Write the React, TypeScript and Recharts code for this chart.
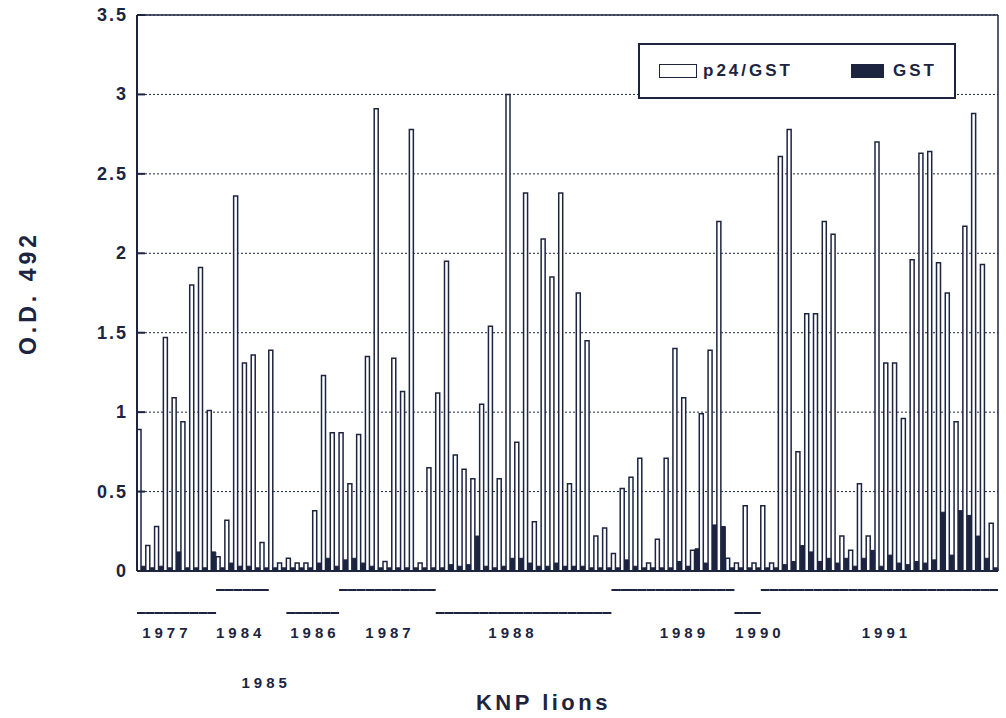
import React from 'react';
import { BarChart, Bar, XAxis, YAxis, CartesianGrid, Legend, ReferenceLine } from 'recharts';

// O.D. 492 readings per lion, left to right
const p24Values = [
  0.89, 0.16, 0.28, 1.47, 1.09, 0.94, 1.8, 1.91, 1.01, 0.09,
  0.32, 2.36, 1.31, 1.36, 0.18, 1.39, 0.05, 0.08, 0.05, 0.05,
  0.38, 1.23, 0.87, 0.87, 0.55, 0.86, 1.35, 2.91, 0.06, 1.34,
  1.13, 2.78, 0.05, 0.65, 1.12, 1.95, 0.73, 0.64, 0.58, 1.05,
  1.54, 0.58, 3.0, 0.81, 2.38, 0.31, 2.09, 1.85, 2.38, 0.55,
  1.75, 1.45, 0.22, 0.27, 0.11, 0.52, 0.59, 0.71, 0.05, 0.2,
  0.71, 1.4, 1.09, 0.13, 0.99, 1.39, 2.2, 0.08, 0.05, 0.41,
  0.05, 0.41, 0.05, 2.61, 2.78, 0.75, 1.62, 1.62, 2.2, 2.12,
  0.22, 0.13, 0.55, 0.22, 2.7, 1.31, 1.31, 0.96, 1.96, 2.63,
  2.64, 1.94, 1.75, 0.94, 2.17, 2.88, 1.93, 0.3,
];

const gstValues = [
  0.03, 0.02, 0.03, 0.02, 0.12, 0.02, 0.02, 0.02, 0.12, 0.02,
  0.05, 0.03, 0.03, 0.02, 0.02, 0.02, 0.02, 0.02, 0.02, 0.02,
  0.05, 0.08, 0.03, 0.07, 0.08, 0.05, 0.03, 0.02, 0.02, 0.02,
  0.02, 0.02, 0.02, 0.02, 0.02, 0.04, 0.03, 0.04, 0.22, 0.03,
  0.02, 0.03, 0.08, 0.08, 0.05, 0.03, 0.03, 0.05, 0.03, 0.03,
  0.03, 0.02, 0.02, 0.02, 0.02, 0.07, 0.03, 0.02, 0.02, 0.02,
  0.02, 0.06, 0.03, 0.14, 0.05, 0.29, 0.28, 0.02, 0.02, 0.02,
  0.02, 0.02, 0.02, 0.04, 0.06, 0.16, 0.12, 0.06, 0.08, 0.05,
  0.08, 0.03, 0.08, 0.13, 0.03, 0.1, 0.05, 0.04, 0.06, 0.05,
  0.07, 0.37, 0.1, 0.38, 0.35, 0.22, 0.08, 0.02,
];

const yTicks = [0, 0.5, 1, 1.5, 2, 2.5, 3, 3.5];

// sampling years: first/last lion index, which line row, label position (in lion units)
const years = [
  { year: '1977', from: 0, to: 8, row: 'low', labelAt: 3.4 },
  { year: '1984', from: 9, to: 14, row: 'high', labelAt: 11.8 },
  { year: '1985', from: 15, to: 16, row: 'none', labelAt: 14.7 },
  { year: '1986', from: 17, to: 22, row: 'low', labelAt: 20.25 },
  { year: '1987', from: 23, to: 33, row: 'high', labelAt: 28.8 },
  { year: '1988', from: 34, to: 53, row: 'low', labelAt: 42.8 },
  { year: '1989', from: 54, to: 67, row: 'high', labelAt: 62.3 },
  { year: '1990', from: 68, to: 70, row: 'low', labelAt: 70.9 },
  { year: '1991', from: 71, to: 97, row: 'high', labelAt: 85.3 },
];

const data = p24Values.map((v, i) => ({ lion: String(i + 1), p24: v, gst: gstValues[i] }));

const INK = '#1c2440';
const FONT = '"Liberation Sans", Arial, sans-serif';

const ODTick = ({ x, y, payload }: any) => (
  <g>
    <line x1={x + 9} x2={x + 17} y1={y} y2={y} stroke={INK} strokeWidth={2} />
    <text x={x} y={y} dy={6} textAnchor="end" fill={INK} fontFamily={FONT} fontWeight={700}
      fontSize={18} letterSpacing={2}>
      {payload.value}
    </text>
  </g>
);

const YearTick = ({ x, y, index, payload }: any) => {
  const bw = payload && payload.offset ? payload.offset * 2 : 8.79;
  const parts: React.ReactNode[] = [];
  years.forEach((s) => {
    if (s.row !== 'none' && index >= s.from && index <= s.to) {
      const ly = y + (s.row === 'high' ? 19 : 42);
      parts.push(
        <line key={s.year + 'l'} x1={x - bw / 2} x2={x + bw / 2} y1={ly} y2={ly} stroke={INK} strokeWidth={2} />
      );
    }
    if (Math.floor(s.labelAt) === index) {
      parts.push(
        <text key={s.year + 't'} x={x + (s.labelAt - index - 0.5) * bw} y={y + (s.row === 'none' ? 117 : 67)}
          textAnchor="middle" fill={INK} fontFamily={FONT} fontWeight={700} fontSize={15} letterSpacing={4}>
          {s.year}
        </text>
      );
    }
  });
  return <g>{parts}</g>;
};

const LegendBox = () => (
  <div style={{
    position: 'relative', border: `2px solid ${INK}`, background: '#fff', height: 56, boxSizing: 'border-box',
    fontFamily: FONT, fontWeight: 700, fontSize: 17, letterSpacing: 3, color: INK, lineHeight: '20px',
  }}>
    <span style={{ position: 'absolute', left: 19, top: 19, width: 38, height: 14, boxSizing: 'border-box',
      border: `1.5px solid ${INK}` }} />
    <span style={{ position: 'absolute', left: 63, top: 16 }}>p24/GST</span>
    <span style={{ position: 'absolute', left: 211, top: 19, width: 33, height: 14, background: INK }} />
    <span style={{ position: 'absolute', left: 253, top: 16 }}>GST</span>
  </div>
);

export default function App() {
  return (
    <div style={{ position: 'absolute', left: 0, top: 0, background: '#fff' }}>
      <BarChart width={1006} height={718} data={data}
        margin={{ top: 15, right: 0, bottom: 0, left: 0 }}
        barSize={4} barGap={0.5}>
        <CartesianGrid vertical={false} stroke={INK} strokeDasharray="2 2" />
        <XAxis dataKey="lion" height={147} interval={0} tickSize={0} tickMargin={0}
          tickLine={false} axisLine={{ stroke: INK, strokeWidth: 2 }} tick={<YearTick />}
          label={{ value: 'KNP lions', position: 'insideBottom', offset: 8, dx: -24, fill: INK,
            fontFamily: FONT, fontWeight: 700, fontSize: 22, letterSpacing: 3.5 }} />
        <YAxis domain={[0, 3.5]} ticks={yTicks} width={137} tickSize={0} tickMargin={9}
          tickLine={false} axisLine={{ stroke: INK, strokeWidth: 2 }} tick={<ODTick />}
          allowDataOverflow
          label={{ value: 'O.D. 492', angle: -90, position: 'insideLeft', offset: 28, fill: INK,
            fontFamily: FONT, fontWeight: 700, fontSize: 23, letterSpacing: 4,
            style: { textAnchor: 'middle' } }} />
        <YAxis yAxisId="frame" orientation="right" width={8} domain={[0, 3.5]} tick={false}
          tickLine={false} axisLine={{ stroke: INK, strokeWidth: 1.5 }} />
        <ReferenceLine y={3.5} stroke={INK} strokeWidth={1.5} />
        <Legend layout="vertical" align="center" verticalAlign="middle" content={<LegendBox />}
          wrapperStyle={{ left: 638, top: 43, width: 318, height: 56 }} />
        <Bar dataKey="p24" name="p24/GST" fill="#fff" stroke={INK} strokeWidth={1.5} isAnimationActive={false} />
        <Bar dataKey="gst" name="GST" fill={INK} stroke={INK} strokeWidth={1} isAnimationActive={false} />
      </BarChart>
    </div>
  );
}
